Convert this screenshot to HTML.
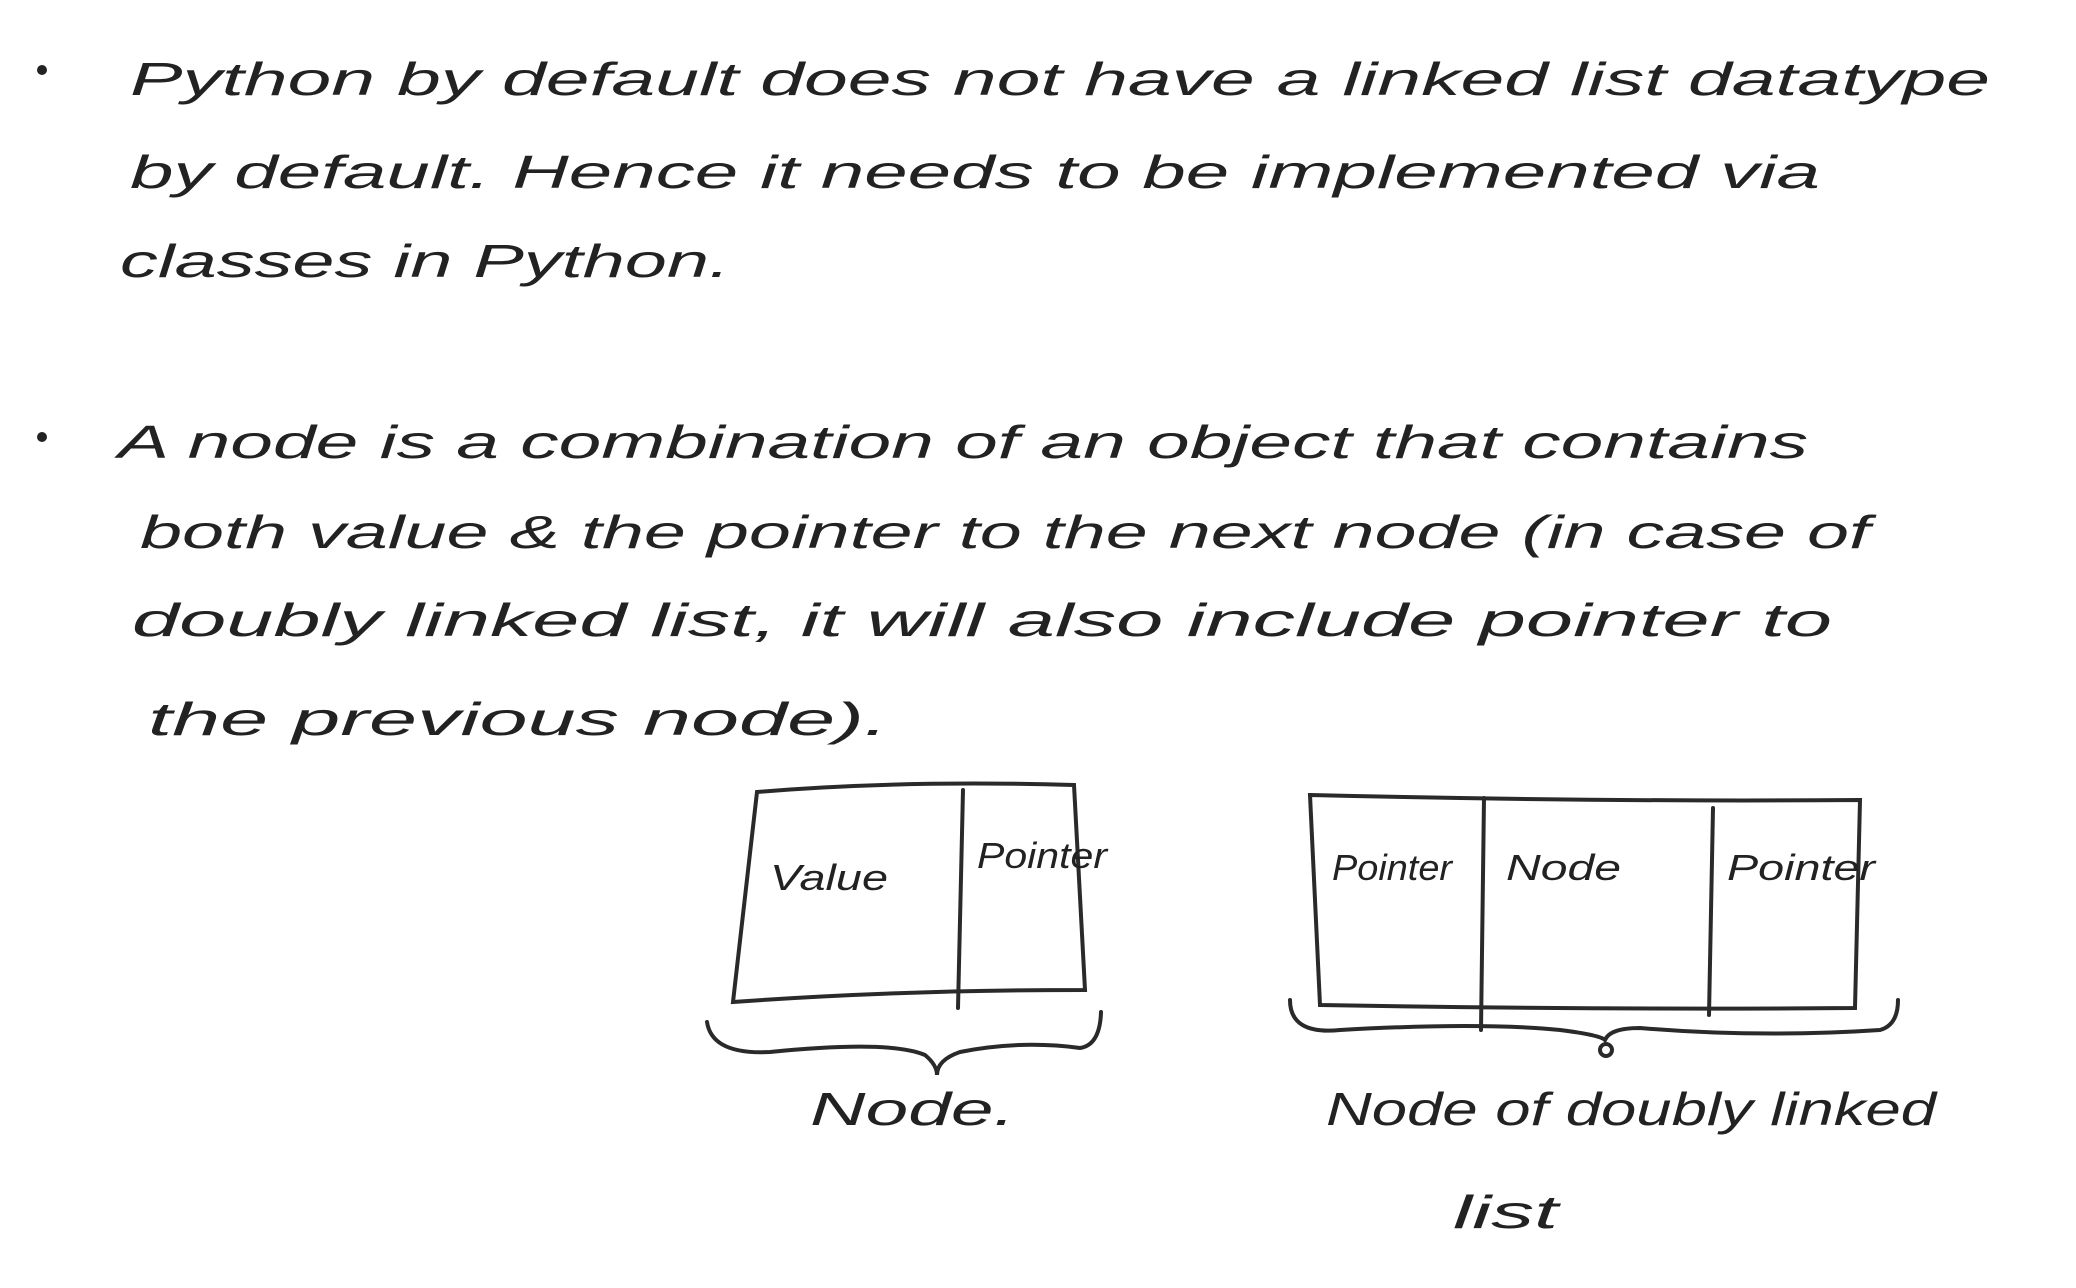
<!DOCTYPE html>
<html><head><meta charset="utf-8"><style>
html,body{margin:0;padding:0;background:#fff;}
svg{display:block;}
text{font-family:"Liberation Sans",sans-serif;fill:#222;}
</style></head><body>
<svg width="2076" height="1288" viewBox="0 0 2076 1288" xmlns="http://www.w3.org/2000/svg">
<g font-size="46" font-style="italic">
<circle cx="42" cy="70" r="5" fill="#222"/>
<text x="130" y="95" textLength="1860" lengthAdjust="spacingAndGlyphs">Python by default does not have a linked list datatype</text>
<text x="130" y="188" textLength="1690" lengthAdjust="spacingAndGlyphs">by default. Hence it needs to be implemented via</text>
<text x="120" y="277" textLength="610" lengthAdjust="spacingAndGlyphs">classes in Python.</text>
<circle cx="42" cy="437" r="5" fill="#222"/>
<text x="118" y="458" textLength="1690" lengthAdjust="spacingAndGlyphs">A node is a combination of an object that contains</text>
<text x="140" y="548" textLength="1730" lengthAdjust="spacingAndGlyphs">both value &amp; the pointer to the next node (in case of</text>
<text x="132" y="636" textLength="1700" lengthAdjust="spacingAndGlyphs">doubly linked list, it will also include pointer to</text>
<text x="148" y="735" textLength="740" lengthAdjust="spacingAndGlyphs">the previous node).</text>
</g>
<g fill="none" stroke="#2a2a2a" stroke-width="4" stroke-linecap="round">
<path d="M757 792 Q900 780 1074 785 L1085 990 Q900 990 733 1002 Z"/>
<path d="M963 790 L958 1008"/>
<path d="M707 1022 Q712 1055 770 1052 Q890 1040 925 1055 Q937 1065 937 1075 Q937 1060 960 1052 Q1020 1040 1080 1048 Q1100 1045 1101 1012"/>
<path d="M1310 795 Q1600 802 1860 800 L1855 1008 Q1600 1010 1320 1005 Z"/>
<path d="M1484 798 L1481 1030"/>
<path d="M1713 808 L1709 1015"/>
<path d="M1290 1000 Q1290 1035 1340 1030 Q1480 1022 1560 1030 Q1600 1035 1605 1040 Q1610 1028 1640 1028 Q1760 1038 1880 1030 Q1898 1025 1898 1000"/>
<circle cx="1606" cy="1050" r="6"/>
</g>
<g font-size="36" font-style="italic">
<text x="770" y="890" textLength="118" lengthAdjust="spacingAndGlyphs">Value</text>
<text x="977" y="868" textLength="130" lengthAdjust="spacingAndGlyphs">Pointer</text>
<text x="1332" y="880" textLength="120" lengthAdjust="spacingAndGlyphs">Pointer</text>
<text x="1506" y="880" textLength="115" lengthAdjust="spacingAndGlyphs">Node</text>
<text x="1727" y="880" textLength="148" lengthAdjust="spacingAndGlyphs">Pointer</text>
</g>
<g font-size="46" font-style="italic">
<text x="810" y="1125" textLength="205" lengthAdjust="spacingAndGlyphs">Node.</text>
<text x="1326" y="1125" textLength="610" lengthAdjust="spacingAndGlyphs">Node of doubly linked</text>
<text x="1453" y="1228" textLength="105" lengthAdjust="spacingAndGlyphs">list</text>
</g>
</svg>
</body></html>
